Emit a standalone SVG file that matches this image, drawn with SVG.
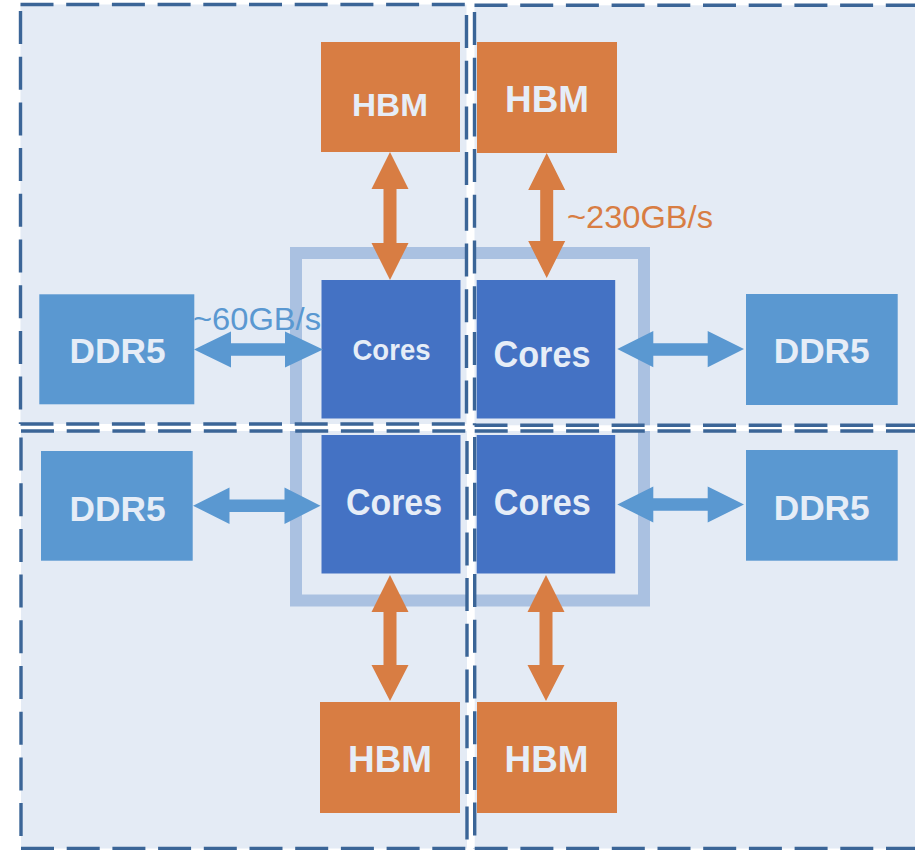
<svg xmlns="http://www.w3.org/2000/svg" width="915" height="850" viewBox="0 0 915 850">
  <style>
    .quad { fill: #E4EBF5; }
    .qborder { fill: none; stroke: #3B6597; stroke-width: 3.4; stroke-dasharray: 33 12.7; }
    .frame { fill: none; stroke: #AAC1E1; stroke-width: 12; }
    .hbm { fill: #D87D43; }
    .cores { fill: #4472C4; }
    .ddr { fill: #5A98D1; }
    .lbl { font-family: "Liberation Sans", Arial, sans-serif; font-weight: bold; fill: #E6EDF7; text-anchor: middle; }
    .bw { font-family: "Liberation Sans", Arial, sans-serif; font-weight: normal; }
    .arr-o { fill: #D87D43; }
    .arr-b { fill: #5A98D1; }
  </style>
  <defs>
    <clipPath id="quadClip">
      <rect x="20.5" y="4.5" width="446" height="419.5"/>
      <rect x="474.5" y="5.3" width="445" height="420"/>
      <rect x="21" y="431" width="446" height="417.5"/>
      <rect x="474.7" y="431" width="445" height="417.5"/>
    </clipPath>
  </defs>

  <rect x="0" y="0" width="915" height="850" fill="#FFFFFF"/>

  <!-- four quadrant panels -->
  <g id="panels">
    <rect class="quad" x="20.5" y="4.5" width="446" height="419.5"/>
    <rect class="quad" x="474.5" y="5.3" width="445" height="420"/>
    <rect class="quad" x="21" y="431" width="446" height="417.5"/>
    <rect class="quad" x="474.7" y="431" width="445" height="417.5"/>
  </g>

  <!-- package outline around the core tiles -->
  <g id="package-frame" clip-path="url(#quadClip)">
    <rect class="frame" x="296" y="253" width="348" height="347.5"/>
  </g>

  <!-- dashed panel borders -->
  <g id="panel-borders">
    <path class="qborder" d="M20.5,4.5 H466.5 M20.5,11 V424 M466.5,15 V424 M20.5,424 H466.5"/>
    <path class="qborder" d="M474.5,5.3 H920 M474.5,12 V425.3 M474.5,425.3 H920"/>
    <path class="qborder" d="M21,431 H467 M21,437.5 V848.5 M467,441 V848.5 M21,848.5 H467"/>
    <path class="qborder" d="M474.7,431 H920 M474.7,437 V848.5 M474.7,848.5 H920"/>
  </g>

  <!-- HBM stacks -->
  <g id="hbm-tl">
    <rect class="hbm" x="321" y="42" width="139" height="110"/>
    <text class="lbl" x="390" y="116" font-size="32" textLength="76" lengthAdjust="spacingAndGlyphs">HBM</text>
  </g>
  <g id="hbm-tr">
    <rect class="hbm" x="477" y="42" width="140" height="111"/>
    <text class="lbl" x="547" y="112" font-size="37" textLength="84" lengthAdjust="spacingAndGlyphs">HBM</text>
  </g>
  <g id="hbm-bl">
    <rect class="hbm" x="320" y="702" width="140" height="111"/>
    <text class="lbl" x="390" y="771.5" font-size="37" textLength="84" lengthAdjust="spacingAndGlyphs">HBM</text>
  </g>
  <g id="hbm-br">
    <rect class="hbm" x="477" y="702" width="140" height="111"/>
    <text class="lbl" x="546.5" y="771.5" font-size="37" textLength="84" lengthAdjust="spacingAndGlyphs">HBM</text>
  </g>

  <!-- core tiles -->
  <g id="cores-tl">
    <rect class="cores" x="321.5" y="280" width="139" height="138.5"/>
    <text class="lbl" x="391.5" y="359.5" font-size="30" textLength="78" lengthAdjust="spacingAndGlyphs">Cores</text>
  </g>
  <g id="cores-tr">
    <rect class="cores" x="476.7" y="280" width="138.5" height="138.5"/>
    <text class="lbl" x="542" y="366.5" font-size="37" textLength="97" lengthAdjust="spacingAndGlyphs">Cores</text>
  </g>
  <g id="cores-bl">
    <rect class="cores" x="321.5" y="435" width="139" height="138.5"/>
    <text class="lbl" x="394" y="515" font-size="37" textLength="96" lengthAdjust="spacingAndGlyphs">Cores</text>
  </g>
  <g id="cores-br">
    <rect class="cores" x="476.7" y="435" width="138.5" height="138.5"/>
    <text class="lbl" x="542.3" y="515" font-size="37" textLength="97" lengthAdjust="spacingAndGlyphs">Cores</text>
  </g>

  <!-- DDR5 channels -->
  <g id="ddr5-tl">
    <rect class="ddr" x="39.3" y="294.3" width="155" height="110"/>
    <text class="lbl" x="117.5" y="363.3" font-size="35" textLength="96" lengthAdjust="spacingAndGlyphs">DDR5</text>
  </g>
  <g id="ddr5-tr">
    <rect class="ddr" x="746" y="294" width="151.7" height="111"/>
    <text class="lbl" x="821.7" y="363.3" font-size="35" textLength="96" lengthAdjust="spacingAndGlyphs">DDR5</text>
  </g>
  <g id="ddr5-bl">
    <rect class="ddr" x="41" y="451" width="151.7" height="109.7"/>
    <text class="lbl" x="117.5" y="520.5" font-size="35" textLength="96" lengthAdjust="spacingAndGlyphs">DDR5</text>
  </g>
  <g id="ddr5-br">
    <rect class="ddr" x="746" y="450" width="151.7" height="110.7"/>
    <text class="lbl" x="821.7" y="520" font-size="35" textLength="96" lengthAdjust="spacingAndGlyphs">DDR5</text>
  </g>

  <!-- bidirectional links -->
  <g id="connectors">
    <!-- HBM <-> cores -->
    <path class="arr-o" d="M390,152 L408.5,189 L396.5,189 L396.5,243 L408.5,243 L390,280 L371.5,243 L383.5,243 L383.5,189 L371.5,189 Z"/>
    <path class="arr-o" d="M546.7,153 L565.2,190 L553.2,190 L553.2,241 L565.2,241 L546.7,278 L528.2,241 L540.2,241 L540.2,190 L528.2,190 Z"/>
    <path class="arr-o" d="M390,575 L408.5,612 L396.5,612 L396.5,665 L408.5,665 L390,701 L371.5,665 L383.5,665 L383.5,612 L371.5,612 Z"/>
    <path class="arr-o" d="M546,575 L564.5,612 L552.5,612 L552.5,665 L564.5,665 L546,701 L527.5,665 L539.5,665 L539.5,612 L527.5,612 Z"/>
    <!-- DDR5 <-> cores -->
    <path class="arr-b" d="M194,349.5 L231,331.5 L231,343.3 L285,343.3 L285,331.5 L323,349.5 L285,367.5 L285,355.8 L231,355.8 L231,367.5 Z"/>
    <path class="arr-b" d="M193,505.7 L229.5,487.5 L229.5,499.5 L284.5,499.5 L284.5,487.5 L320.5,505.7 L284.5,524 L284.5,512 L229.5,512 L229.5,524 Z"/>
    <path class="arr-b" d="M617.3,349 L653.3,331 L653.3,343.2 L707.7,343.2 L707.7,331 L744,349 L707.7,367.3 L707.7,355.8 L653.3,355.8 L653.3,367.3 Z"/>
    <path class="arr-b" d="M617.3,504.5 L653.3,486.5 L653.3,498.3 L707.7,498.3 L707.7,486.5 L744,504.5 L707.7,522.5 L707.7,510.8 L653.3,510.8 L653.3,522.5 Z"/>
    <!-- bandwidth labels -->
    <text class="bw" x="193" y="330" font-size="31" fill="#5A98D1" textLength="128" lengthAdjust="spacingAndGlyphs">~60GB/s</text>
    <text class="bw" x="567" y="228" font-size="31" fill="#D87D43" textLength="146" lengthAdjust="spacingAndGlyphs">~230GB/s</text>
  </g>
</svg>
